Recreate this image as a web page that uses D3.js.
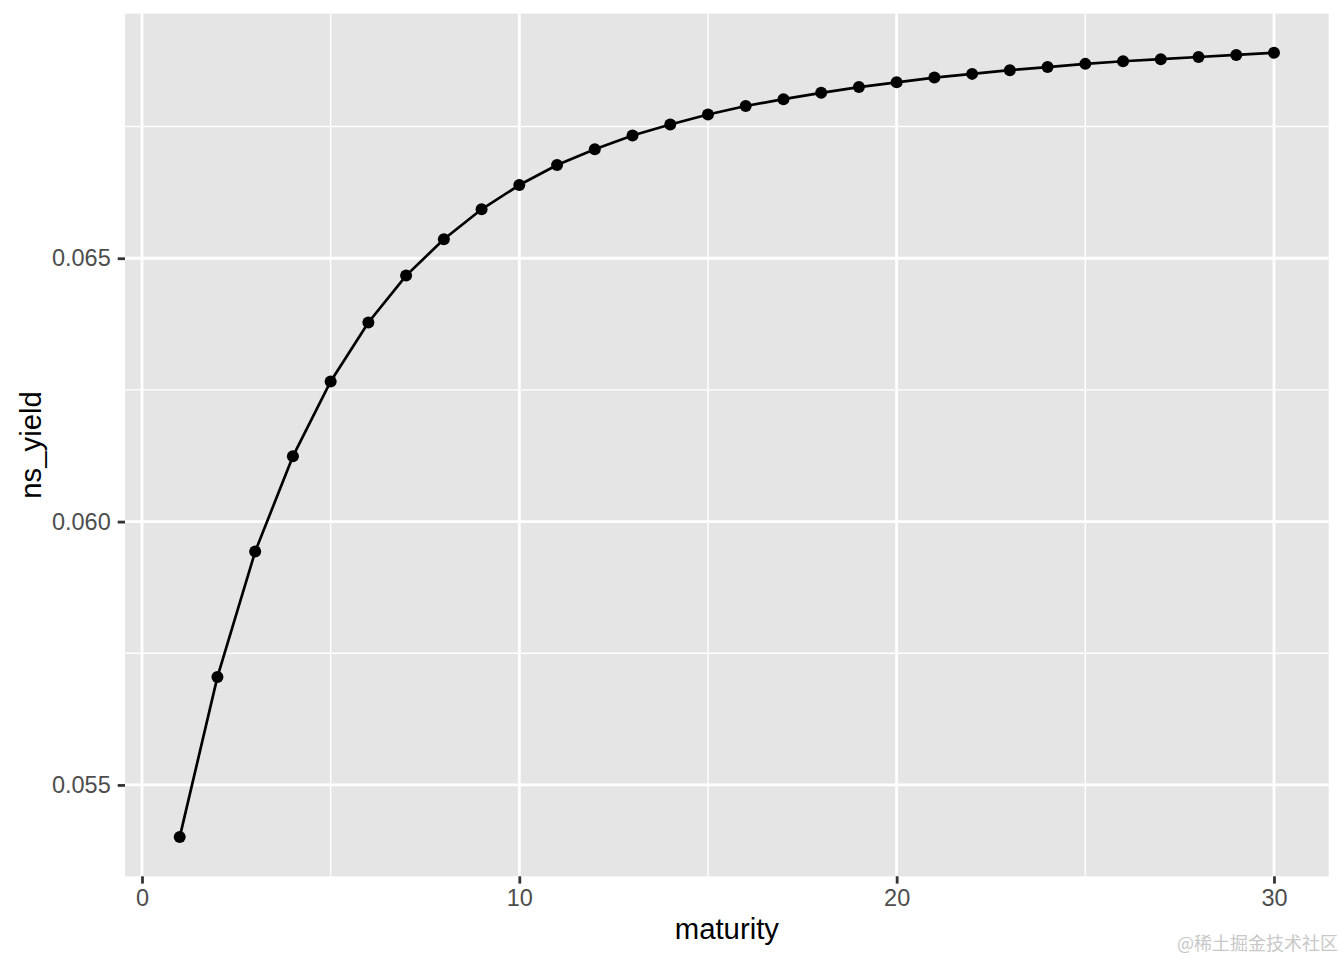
<!DOCTYPE html>
<html>
<head>
<meta charset="utf-8">
<script src="https://cdn.jsdelivr.net/npm/d3@7"></script>
<style>
  html, body { margin: 0; padding: 0; background: #fff; }
  svg { display: block; }
</style>
</head>
<body>
<svg id="chart" width="1344" height="960"></svg>
<script>
// ---- data ----
const maturity = [1,2,3,4,5,6,7,8,9,10,11,12,13,14,15,16,17,18,19,20,21,22,23,24,25,26,27,28,29,30];
const nsYield = [0.05401, 0.05705, 0.05943, 0.06124, 0.06266, 0.06378, 0.06467, 0.06536, 0.06593, 0.06639,
                 0.06677, 0.06707, 0.06733, 0.06754, 0.06773, 0.06789, 0.06802, 0.06814, 0.06825, 0.06834,
                 0.06843, 0.06850, 0.06857, 0.06863, 0.06869, 0.06874, 0.06878, 0.06882, 0.06886, 0.06890];
const xTicks = [0, 10, 20, 30];
const xMinor = [5, 15, 25];
const yTicks = [0.055, 0.060, 0.065];
const yMinor = [0.0575, 0.0625, 0.0675];
const xTitle = "maturity";
const yTitle = "ns_yield";
const watermark = "@稀土掘金技术社区";

// ---- layout ----
const svg = d3.select("#chart");
const panel = { left: 125, right: 1328.7, top: 13.6, bottom: 876.3 };

function expand(ext, f) { const r = ext[1] - ext[0]; return [ext[0] - r * f, ext[1] + r * f]; }
const x = d3.scaleLinear().domain(expand(d3.extent(maturity), 0.05)).range([panel.left, panel.right]);
const y = d3.scaleLinear().domain(expand(d3.extent(nsYield), 0.05)).range([panel.bottom, panel.top]);

const data = maturity.map((m, i) => ({ m, v: nsYield[i] }));

// panel background
svg.append("rect")
  .attr("x", panel.left).attr("y", panel.top)
  .attr("width", panel.right - panel.left).attr("height", panel.bottom - panel.top)
  .attr("fill", "#E5E5E5");

const grid = svg.append("g");
grid.selectAll(".xminor").data(xMinor).join("line")
  .attr("x1", d => x(d)).attr("x2", d => x(d))
  .attr("y1", panel.top).attr("y2", panel.bottom)
  .attr("stroke", "#fff").attr("stroke-width", 1.4);
grid.selectAll(".yminor").data(yMinor).join("line")
  .attr("y1", d => y(d)).attr("y2", d => y(d))
  .attr("x1", panel.left).attr("x2", panel.right)
  .attr("stroke", "#fff").attr("stroke-width", 1.4);
grid.selectAll(".xmajor").data(xTicks).join("line")
  .attr("x1", d => x(d)).attr("x2", d => x(d))
  .attr("y1", panel.top).attr("y2", panel.bottom)
  .attr("stroke", "#fff").attr("stroke-width", 2.8);
grid.selectAll(".ymajor").data(yTicks).join("line")
  .attr("y1", d => y(d)).attr("y2", d => y(d))
  .attr("x1", panel.left).attr("x2", panel.right)
  .attr("stroke", "#fff").attr("stroke-width", 2.8);

// axes
const font = "'Liberation Sans', Arial, Helvetica, sans-serif";
const xAxis = svg.append("g")
  .attr("transform", `translate(0,${panel.bottom})`)
  .call(d3.axisBottom(x).tickValues(xTicks).tickFormat(d3.format("d")).tickSize(7.3).tickPadding(6));
xAxis.select(".domain").remove();
xAxis.selectAll(".tick line").attr("stroke", "#333333").attr("stroke-width", 2.8);
xAxis.selectAll(".tick text").attr("fill", "#4D4D4D").style("font-family", font).style("font-size", "23.5px");

const yAxis = svg.append("g")
  .attr("transform", `translate(${panel.left},0)`)
  .call(d3.axisLeft(y).tickValues(yTicks).tickFormat(d3.format(".3f")).tickSize(7.3).tickPadding(7));
yAxis.select(".domain").remove();
yAxis.selectAll(".tick line").attr("stroke", "#333333").attr("stroke-width", 2.8);
yAxis.selectAll(".tick text").attr("fill", "#4D4D4D").style("font-family", font).style("font-size", "23.5px");

// line
svg.append("path")
  .datum(data)
  .attr("fill", "none")
  .attr("stroke", "#000")
  .attr("stroke-width", 2.7)
  .attr("d", d3.line().x(d => x(d.m)).y(d => y(d.v)));

// points
svg.append("g").selectAll("circle").data(data).join("circle")
  .attr("cx", d => x(d.m)).attr("cy", d => y(d.v))
  .attr("r", 6).attr("fill", "#000");

// titles
svg.append("text")
  .attr("x", (panel.left + panel.right) / 2).attr("y", 939)
  .attr("text-anchor", "middle")
  .style("font-family", font).style("font-size", "29.3px").attr("fill", "#000")
  .text(xTitle);

svg.append("text")
  .attr("transform", `translate(41,${(panel.top + panel.bottom) / 2}) rotate(-90)`)
  .attr("text-anchor", "middle")
  .style("font-family", font).style("font-size", "29.3px").attr("fill", "#000")
  .text(yTitle);

// watermark
svg.append("text")
  .attr("x", 1338).attr("y", 950)
  .attr("text-anchor", "end")
  .style("font-family", "'Noto Sans CJK SC', sans-serif").style("font-size", "18px")
  .attr("fill", "#C8C8C8")
  .text(watermark);
</script>
</body>
</html>
